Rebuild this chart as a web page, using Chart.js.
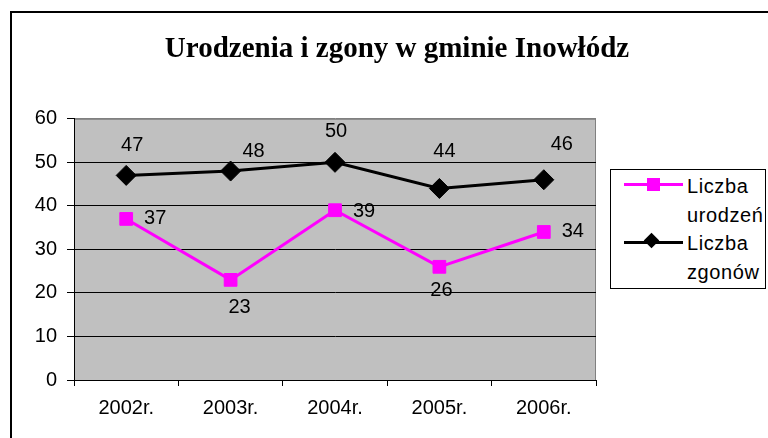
<!DOCTYPE html>
<html>
<head>
<meta charset="utf-8">
<script src="https://cdn.jsdelivr.net/npm/chart.js@4/dist/chart.umd.min.js"></script>
<style>
body { margin: 0; width: 768px; height: 438px; overflow: hidden; background: #fff; position: relative; }
#frame { position: absolute; left: 10px; top: 11px; width: 800px; height: 500px; border: 2px solid #000; box-sizing: border-box; }
#myChart { position: absolute; left: 12px; top: 13px; }
#legend { position: absolute; left: 610px; top: 169px; width: 156px; height: 120px; border: 1px solid #000; box-sizing: border-box; background: #fff;
  font-family: "Liberation Sans", Arial, sans-serif; font-size: 20px; line-height: 29px; color: #000; letter-spacing: 0.6px; }
.item { position: absolute; left: 76px; }
.sym { position: absolute; left: 13px; width: 59px; height: 3px; }
.mk { position: absolute; }
</style>
</head>
<body>
<div id="frame"></div>
<canvas id="myChart" width="770" height="425"></canvas>
<div id="legend">
  <div class="sym" style="top:13px;background:#FF00FF"><div class="mk" style="left:23px;top:-5px;width:13px;height:13px;background:#FF00FF"></div></div>
  <div class="item" style="top:2px">Liczba<br>urodzeń</div>
  <div class="sym" style="top:71px;background:#000"><div class="mk" style="left:22px;top:-6px;width:11px;height:11px;background:#000;transform:rotate(45deg)"></div></div>
  <div class="item" style="top:59px">Liczba<br>zgonów</div>
</div>
<script>
//data
const years = ['2002r.', '2003r.', '2004r.', '2005r.', '2006r.']
const births = [37, 23, 39, 26, 34]
const deaths = [47, 48, 50, 44, 46]
const yTicks = [0, 10, 20, 30, 40, 50, 60]

//where each value label sits next to its point
const birthLabelShift = [[29, 0], [9, 28], [29, 1], [2, 24], [29, -1]]
const deathLabelShift = [[6, -30], [23, -20], [1, -31], [5, -37], [18, -35]]

const plotBack = {
	id: 'plotBack',
	beforeDraw: (chart) => {
		let a = chart.chartArea
		let ctx = chart.ctx
		ctx.save()
		ctx.fillStyle = '#C0C0C0'
		ctx.fillRect(a.left, a.top, a.right - a.left, a.bottom - a.top)
		ctx.strokeStyle = '#808080'
		ctx.lineWidth = 1
		ctx.strokeRect(a.left + 0.5, a.top + 0.5, a.right - a.left - 1, a.bottom - a.top)
		ctx.restore()
	}
}

const valueLabels = {
	id: 'valueLabels',
	afterDatasetsDraw: (chart) => {
		let ctx = chart.ctx
		ctx.save()
		ctx.font = '20px "Liberation Sans", Arial, sans-serif'
		ctx.fillStyle = '#000'
		ctx.textAlign = 'center'
		ctx.textBaseline = 'middle'
		chart.data.datasets.forEach((ds, i) => {
			let meta = chart.getDatasetMeta(i)
			meta.data.forEach((pt, j) => {
				let s = ds.labelShift[j]
				ctx.fillText(ds.data[j], pt.x + s[0], pt.y + s[1])
			})
		})
		ctx.restore()
	}
}

let ctx = document.getElementById('myChart').getContext('2d')

let tickFont = { family: '"Liberation Sans", Arial, sans-serif', size: 20 }

var myChart = new Chart(ctx, {
	type: 'line',
	data: {
		labels: years,
		datasets: [{
			label: 'Liczba urodzeń',
			data: births,
			labelShift: birthLabelShift,
			borderColor: '#FF00FF',
			backgroundColor: '#FF00FF',
			borderWidth: 3,
			pointStyle: 'rect',
			pointRadius: 9,
			pointBorderWidth: 1,
			tension: 0
		}, {
			label: 'Liczba zgonów',
			data: deaths,
			labelShift: deathLabelShift,
			borderColor: '#000',
			backgroundColor: '#000',
			borderWidth: 3,
			pointStyle: 'rectRot',
			pointRadius: 10,
			pointBorderWidth: 1,
			tension: 0
		}]
	},
	options: {
		responsive: false,
		animation: false,
		layout: { padding: 0 },
		plugins: {
			legend: { display: false },
			tooltip: { enabled: false },
			title: {
				display: true,
				text: 'Urodzenia i zgony w gminie Inowłódz',
				color: '#000',
				font: { family: '"Liberation Serif", "Times New Roman", serif', size: 29, weight: 'bold', lineHeight: 1.2 },
				padding: { top: 19, bottom: 52 }
			}
		},
		scales: {
			x: {
				offset: true,
				grid: { offset: true, drawOnChartArea: false, tickLength: 6, color: '#000' },
				border: { color: '#000', width: 1 },
				ticks: { font: tickFont, color: '#000', padding: 10, maxRotation: 0 },
				afterFit: (s) => { s.height = 58 }
			},
			y: {
				min: 0,
				max: 60,
				afterBuildTicks: (s) => { s.ticks = yTicks.map(v => ({ value: v })) },
				grid: {
					tickLength: 7,
					tickColor: '#000',
					color: (c) => c.tick && c.tick.value === 60 ? '#808080' : '#000'
				},
				border: { color: '#000', width: 1 },
				ticks: { font: tickFont, color: '#000', padding: 10 },
				afterFit: (s) => { s.width = 62 }
			},
			side: {
				type: 'linear',
				axis: 'y',
				position: 'right',
				grid: { display: false },
				border: { display: false },
				ticks: { display: false },
				afterFit: (s) => { s.width = 186 }
			}
		}
	},
	plugins: [plotBack, valueLabels]
})
</script>
</body>
</html>
